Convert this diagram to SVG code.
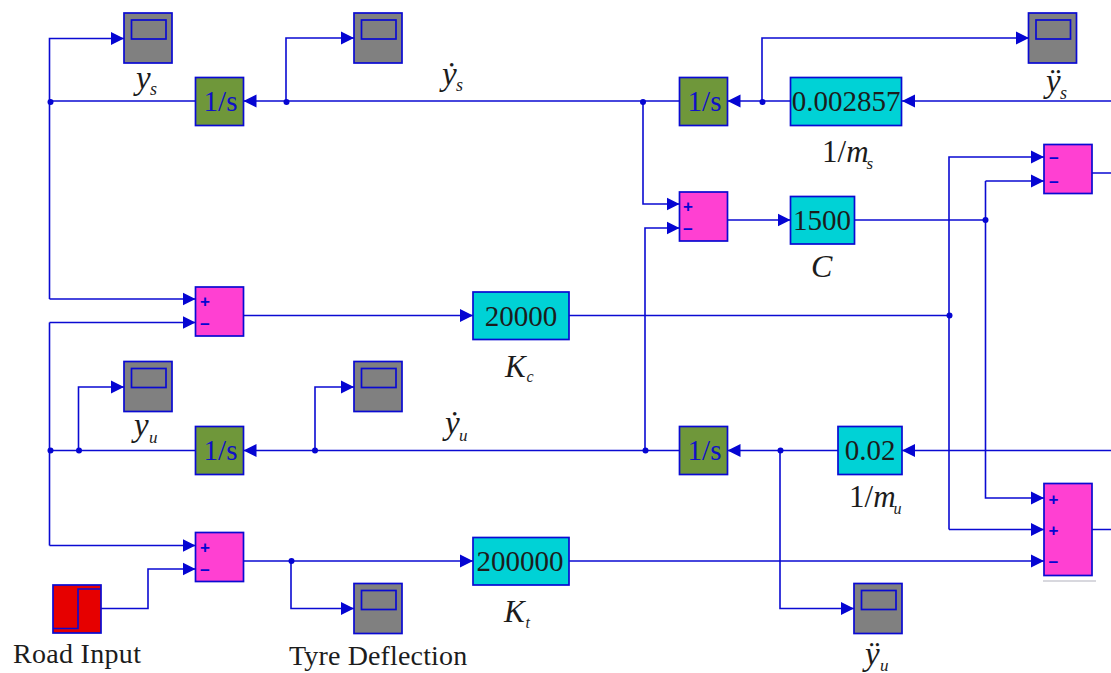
<svg xmlns="http://www.w3.org/2000/svg" width="1111" height="673" viewBox="0 0 1111 673">
<style>
.c{fill:none;stroke:#0a0ad2;stroke-width:1.6}
.a{fill:#0505d2}
.b{stroke:#0a0ad2;stroke-width:1.7}
.sc{fill:#808080}
.in{fill:#6f973a}
.g{fill:#00d2d6}
.su{fill:#ff40d2}
.t{font-family:"Liberation Serif",serif;font-size:29px;fill:#1c1c1c;text-anchor:middle}
.tb{fill:#1010c8}
.l{font-family:"Liberation Serif",serif;font-size:28px;fill:#1c1c1c}
.i{font-style:italic;font-size:33px}
.sub{font-style:italic;font-size:18px}
.sg{font-family:"Liberation Sans",sans-serif;font-weight:bold;font-size:17px;fill:#0505d2;text-anchor:middle}
</style>
<defs>
<marker id="ar" markerUnits="userSpaceOnUse" markerWidth="14" markerHeight="14" refX="13" refY="7" orient="auto"><path d="M0 .500L13 7L0 13.500Z" class="a"/></marker>
<g id="scope"><rect x="0" y="0" width="48" height="50" class="sc b"/><rect x="7.500" y="7" width="34.500" height="19" class="sc b"/></g>
</defs>
<g id="scope1"><use href="#scope" x="124" y="13"/></g>
<g id="scope2"><use href="#scope" x="354" y="13"/></g>
<g id="scope3"><use href="#scope" x="1028.500" y="13"/></g>
<g id="scope4"><use href="#scope" x="124" y="361.500"/></g>
<g id="scope5"><use href="#scope" x="354" y="361.500"/></g>
<g id="scope6"><use href="#scope" x="354" y="583.500"/></g>
<g id="scope7"><use href="#scope" x="854" y="583.500"/></g>
<g id="int1"><rect x="195.500" y="77.500" width="48" height="48" class="in b"/><text x="220.500" y="111" class="t tb">1/s</text></g>
<g id="int2"><rect x="679.500" y="77.500" width="48" height="48" class="in b"/><text x="704.500" y="111" class="t tb">1/s</text></g>
<g id="int3"><rect x="195.500" y="426.500" width="48" height="48" class="in b"/><text x="220.500" y="460" class="t tb">1/s</text></g>
<g id="int4"><rect x="679.500" y="426.500" width="48" height="48" class="in b"/><text x="704.500" y="460" class="t tb">1/s</text></g>
<g id="gain-ms"><rect x="790.500" y="77.500" width="111" height="48" class="g b"/><text x="846" y="111" class="t">0.002857</text></g>
<g id="gain-c"><rect x="790.500" y="196.500" width="64" height="47.500" class="g b"/><text x="822" y="230" class="t">1500</text></g>
<g id="gain-kc"><rect x="473" y="292" width="96" height="47.500" class="g b"/><text x="521" y="325.500" class="t">20000</text></g>
<g id="gain-mu"><rect x="838" y="426.500" width="64" height="48" class="g b"/><text x="870" y="460" class="t">0.02</text></g>
<g id="gain-kt"><rect x="473" y="537.500" width="96" height="47.500" class="g b"/><text x="520" y="571" class="t">200000</text></g>
<g id="sum1"><rect x="679.500" y="192" width="48" height="49" class="su b"/><text x="688" y="211.500" class="sg">+</text><text x="688" y="235" class="sg">−</text></g>
<g id="sum2"><rect x="195.500" y="287" width="48" height="49" class="su b"/><text x="205" y="306.500" class="sg">+</text><text x="205" y="329.500" class="sg">−</text></g>
<g id="sum3"><rect x="195.500" y="532.500" width="48" height="49" class="su b"/><text x="205" y="552.500" class="sg">+</text><text x="205" y="576" class="sg">−</text></g>
<g id="sum4"><rect x="1044" y="144.500" width="48" height="49" class="su b"/><text x="1054" y="163.500" class="sg">−</text><text x="1054" y="187.500" class="sg">−</text></g>
<g id="sum5"><rect x="1044" y="483.500" width="48" height="92" class="su b"/><rect x="1043" y="580" width="53" height="2" fill="#d8d8de"/><text x="1053.500" y="505" class="sg">+</text><text x="1053.500" y="536" class="sg">+</text><text x="1053.500" y="567.500" class="sg">−</text></g>
<g id="source"><rect x="53" y="585" width="48" height="48" fill="#e60000" class="b"/><path class="c" d="M53 628.500H78V589H101"/></g>
<g id="connectors">
<path class="c" marker-end="url(#ar)" d="M49.500 299V38.500H124"/>
<path class="c" d="M49.500 101H195.500"/>
<path class="c" marker-end="url(#ar)" d="M49.500 299H195.500"/>
<path class="c" d="M49.500 322.500V545.500"/>
<path class="c" marker-end="url(#ar)" d="M49.500 322.500H195.500"/>
<path class="c" marker-end="url(#ar)" d="M49.500 545.500H195.500"/>
<path class="c" marker-end="url(#ar)" d="M679.500 101H243.500"/>
<path class="c" marker-end="url(#ar)" d="M286 101V38H354"/>
<path class="c" marker-end="url(#ar)" d="M790.500 101H727.500"/>
<path class="c" marker-end="url(#ar)" d="M762 101V38H1029"/>
<path class="c" marker-end="url(#ar)" d="M1111 101H902"/>
<path class="c" marker-end="url(#ar)" d="M643 101V204H679.500"/>
<path class="c" marker-end="url(#ar)" d="M645 450.500V228H679.500"/>
<path class="c" marker-end="url(#ar)" d="M727.500 220H790.500"/>
<path class="c" d="M854.500 220H985.500"/>
<path class="c" marker-end="url(#ar)" d="M985.500 181H1044"/>
<path class="c" marker-end="url(#ar)" d="M985.500 181V498H1044"/>
<path class="c" marker-end="url(#ar)" d="M949 529.500V157H1044"/>
<path class="c" marker-end="url(#ar)" d="M949 529.500H1044"/>
<path class="c" marker-end="url(#ar)" d="M243.500 315.500H473"/>
<path class="c" d="M569 315.500H949"/>
<path class="c" d="M49.500 450.500H195.500"/>
<path class="c" marker-end="url(#ar)" d="M78.500 450.500V387H124"/>
<path class="c" marker-end="url(#ar)" d="M679.500 450.500H243.500"/>
<path class="c" marker-end="url(#ar)" d="M315 450.500V387H354"/>
<path class="c" marker-end="url(#ar)" d="M838 450.500H727.500"/>
<path class="c" marker-end="url(#ar)" d="M1111 450.500H902"/>
<path class="c" marker-end="url(#ar)" d="M780 450.500V608.500H854"/>
<path class="c" marker-end="url(#ar)" d="M243.500 561H473"/>
<path class="c" marker-end="url(#ar)" d="M291 561V608.500H354"/>
<path class="c" marker-end="url(#ar)" d="M569 561H1044"/>
<path class="c" marker-end="url(#ar)" d="M101 608.500H148V569H195.500"/>
<path class="c" d="M1092 173H1111M1092 529.500H1111"/>
<g class="a">
<circle cx="50.500" cy="102" r="3"/><circle cx="286.500" cy="102" r="3"/><circle cx="643" cy="102" r="3"/><circle cx="762.500" cy="102" r="3"/>
<circle cx="985.500" cy="220" r="3"/><circle cx="949.500" cy="315.500" r="3"/>
<circle cx="50.500" cy="450.500" r="3"/><circle cx="79" cy="450.500" r="3"/><circle cx="315" cy="450.500" r="3"/><circle cx="645.500" cy="450.500" r="3"/><circle cx="780.500" cy="450.500" r="3"/>
<circle cx="291.500" cy="561" r="3"/>
</g>
</g>
<g id="labels">
<text x="136" y="89" class="l i">y</text><text x="150" y="95" class="l sub">s</text>
<text x="134" y="436" class="l i">y</text><text x="149" y="443" class="l sub" style="font-size:17px">u</text>
<text x="442" y="85" class="l i">ẏ</text><text x="456" y="91" class="l sub">s</text>
<text x="445" y="434" class="l i">ẏ</text><text x="459" y="441" class="l sub" style="font-size:17px">u</text>
<text x="1046" y="92" class="l i">ÿ</text><text x="1060" y="99" class="l sub">s</text>
<text x="865" y="665" class="l i">ÿ</text><text x="880" y="671" class="l sub" style="font-size:17px">u</text>
<text x="822" y="161.500" class="l" style="font-size:31px">1/<tspan font-style="italic">m</tspan></text><text x="866.500" y="168.500" class="l sub" style="font-size:17px">s</text>
<text x="849" y="507" class="l" style="font-size:31px">1/<tspan font-style="italic">m</tspan></text><text x="893.500" y="514" class="l sub" style="font-size:16px">u</text>
<text x="811" y="276.500" class="l i" style="font-size:32px">C</text>
<text x="505" y="376.500" class="l i" style="font-size:31px">K</text><text x="526.500" y="382" class="l sub" style="font-size:16px">c</text>
<text x="504" y="622" class="l i" style="font-size:31px">K</text><text x="525.500" y="627.500" class="l sub" style="font-size:16px">t</text>
<text x="13" y="662.500" class="l" style="letter-spacing:.3px">Road Input</text>
<text x="289" y="665" class="l" style="letter-spacing:.15px">Tyre Deflection</text>
</g>
</svg>
